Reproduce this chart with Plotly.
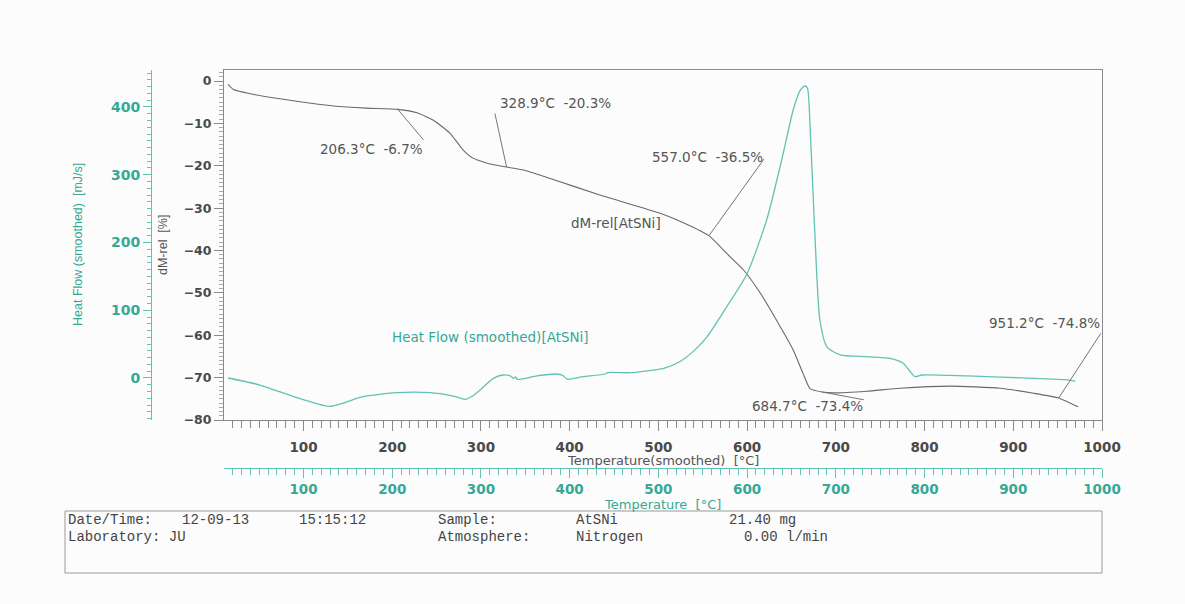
import plotly.graph_objects as go

# ---------------- data ----------------
temp_dm = [15, 21, 40, 58, 96, 134, 171, 206.3, 228, 246, 265, 280, 291, 310, 328.9, 348,
           378, 434, 502, 530, 557.0, 577, 596, 615, 633, 652, 663, 671, 684.7, 697, 735,
           772, 829, 885, 923, 951.2, 962, 973]
dm_rel = [-0.8, -2.0, -3.0, -3.7, -4.9, -5.9, -6.4, -6.7, -7.5, -9.2, -12.3, -16.3, -18.2,
          -19.6, -20.3, -21.0, -23.0, -26.9, -31.2, -33.6, -36.5, -40.7, -44.6, -50.1, -56.4,
          -63.5, -69.0, -72.6, -73.4, -73.6, -73.2, -72.5, -72.0, -72.5, -73.7, -74.8, -75.8,
          -76.9]

temp_hf = [15, 50, 90, 115, 130, 145, 167, 205, 243, 269, 282, 290, 299, 314, 325, 333, 337,
           339, 341, 363, 385, 392, 397, 415, 440, 443, 468, 490, 506, 524, 540, 555, 577,
           600, 622, 639, 652, 660, 665, 668, 671, 676, 682, 690, 705, 735, 761, 776, 789,
           797, 848, 923, 964, 970]
heat_flow = [0, -10, -28, -38, -42, -37, -27.6, -21.7, -21.7, -26.6, -31.5, -27, -17.7, -0.5,
             4.4, 3, -0.5, 1.5, -2, 3, 5.9, 4, -1.5, 2, 5.9, 8, 7.8, 11, 14.3, 24, 40, 61,
             105, 154, 233, 322, 396, 425, 431, 428, 371, 223, 86, 46, 34, 31.4, 29, 21.7, 2,
             4.4, 3, -0.5, -3, -5]

ann_temp = [206.3, 328.9, 557.0, 684.7, 951.2]
ann_dm = [-6.7, -20.3, -36.5, -73.4, -74.8]

info_row1 = ["Date/Time:", "12-09-13", "15:15:12", "Sample:", "AtSNi", "21.40 mg"]
info_row2 = ["Laboratory: JU", "Atmosphere:", "Nitrogen", "0.00 l/min"]

# ---------------- layout geometry (pixels) ----------------
FW, FH = 1185, 604
L, R, T, B = 60, 1102, 70, 520
W, H = R - L, B - T


def px(x):
    return (x - L) / W


def py(y):
    return (B - y) / H


GRAY = "#555555"
AXGRAY = "#8a8a8a"
TEAL = "#35a896"
TEAL_LINE = "#62c2b3"

fig = go.Figure()
fig.add_trace(go.Scatter(x=temp_dm, y=dm_rel, mode="lines", xaxis="x", yaxis="y",
                         line=dict(color="#6a6a6a", width=1.1, shape="spline", smoothing=0.5),
                         name="dM-rel[AtSNi]"))
fig.add_trace(go.Scatter(x=temp_hf, y=heat_flow, mode="lines", xaxis="x2", yaxis="y2",
                         line=dict(color=TEAL_LINE, width=1.3, shape="spline", smoothing=0.6),
                         name="Heat Flow (smoothed)[AtSNi]"))

x_range = [10.4, 1000]
tick_gray = dict(family="DejaVu Sans", size=13.5, color="#4a4a4a", weight="bold")
tick_teal = dict(family="DejaVu Sans", size=13.5, color=TEAL, weight="bold")

fig.update_layout(
    width=FW, height=FH,
    margin=dict(l=L, r=FW - R, t=T, b=FH - B),
    paper_bgcolor="#fcfcfc", plot_bgcolor="#fcfcfc",
    showlegend=False,
    xaxis=dict(domain=[px(224), 1], anchor="y", range=x_range, showgrid=False, zeroline=False,
               showline=True, linecolor=AXGRAY, linewidth=1, mirror=True,
               ticks="outside", tick0=0, dtick=100, ticklen=10, tickcolor=AXGRAY,
               ticklabelstandoff=5,
               minor=dict(dtick=10, tick0=0, ticklen=7, ticks="outside", tickcolor=AXGRAY),
               tickfont=tick_gray),
    xaxis2=dict(overlaying="x", anchor="free", position=py(468), side="bottom", range=x_range,
                showgrid=False, zeroline=False, showline=True, linecolor=TEAL_LINE, linewidth=1,
                ticks="outside", tick0=0, dtick=100, ticklen=9, tickcolor=TEAL_LINE,
                minor=dict(dtick=10, tick0=0, ticklen=6, ticks="outside", tickcolor=TEAL_LINE),
                tickfont=tick_teal),
    yaxis=dict(domain=[py(420), 1], anchor="x", range=[-80, 2.6], showgrid=False, zeroline=False,
               showline=True, linecolor=AXGRAY, linewidth=1, mirror=True,
               ticks="outside", tick0=0, dtick=10, ticklen=9, tickcolor=AXGRAY,
               minor=dict(dtick=1, tick0=0, ticklen=4, ticks="outside", tickcolor="#aaaaaa"),
               tickfont=dict(family="DejaVu Sans", size=12.5, color="#4a4a4a", weight="bold")),
    yaxis2=dict(overlaying="y", anchor="free", position=px(151), side="left",
                range=[-62, 454.6], showgrid=False, zeroline=False, showline=True,
                linecolor=TEAL_LINE, linewidth=1, ticks="outside", tick0=0, dtick=100,
                ticklen=8, tickcolor=TEAL_LINE,
                minor=dict(dtick=10, tick0=0, ticklen=4, ticks="outside", tickcolor=TEAL_LINE),
                tickfont=dict(family="DejaVu Sans", size=14, color=TEAL, weight="bold")),
)

annotations = []


def text_ann(x, y, text, font, angle=0, xanchor="center"):
    return dict(x=px(x), y=py(y), xref="paper", yref="paper", text=text, showarrow=False,
                xanchor=xanchor, yanchor="middle", textangle=angle, font=font)


# leader lines from the marked points (pixel offsets)
leader_offsets = [(27, 32), (-12, -55), (56, -78), (43, 8), (43, -66)]
label_pos = [(371, 149), (555, 103), (707, 157), (807, 406), (1044, 323)]
ann_font = dict(family="DejaVu Sans", size=13.5, color=GRAY)
for t, d, (ax, ay), (lx, ly) in zip(ann_temp, ann_dm, leader_offsets, label_pos):
    annotations.append(dict(x=t, y=d, xref="x", yref="y", text="", showarrow=True,
                            arrowhead=0, arrowwidth=0.9, arrowcolor="#666666",
                            ax=ax, ay=ay, axref="pixel", ayref="pixel"))
    annotations.append(text_ann(lx, ly, f"{t:.1f}°C  {d:.1f}%", ann_font))

# curve labels
annotations.append(text_ann(616, 223, "dM-rel[AtSNi]", ann_font))
annotations.append(text_ann(490, 337, "Heat Flow (smoothed)[AtSNi]",
                            dict(family="DejaVu Sans", size=13.5, color=TEAL)))

# axis titles
annotations.append(text_ann(78, 245, "Heat Flow (smoothed)  [mJ/s]",
                            dict(family="Liberation Sans", size=12.5, color=TEAL), angle=-90))
annotations.append(text_ann(163, 245, "dM-rel  [%]",
                            dict(family="Liberation Sans", size=12.5, color=GRAY), angle=-90))
annotations.append(text_ann(663, 460, "Temperature(smoothed)  [°C]",
                            dict(family="DejaVu Sans", size=13, color=GRAY)))
annotations.append(text_ann(662, 504, "Temperature  [°C]",
                            dict(family="DejaVu Sans", size=13, color=TEAL)))

# info box text
row1_x = [66, 180, 297, 436, 574, 727]
row2_x = [66, 436, 574, 742]
mono = dict(family="Liberation Mono", size=14, color="#444444")
for txt, xx in zip(info_row1, row1_x):
    annotations.append(text_ann(xx, 520, txt, mono, xanchor="left"))
for txt, xx in zip(info_row2, row2_x):
    annotations.append(text_ann(xx, 537, txt, mono, xanchor="left"))

fig.update_layout(annotations=annotations)
fig.add_shape(type="rect", xref="paper", yref="paper", x0=px(65), x1=px(1102),
              y0=py(573), y1=py(511), line=dict(color="#999999", width=1))

fig.write_html("out.html")
